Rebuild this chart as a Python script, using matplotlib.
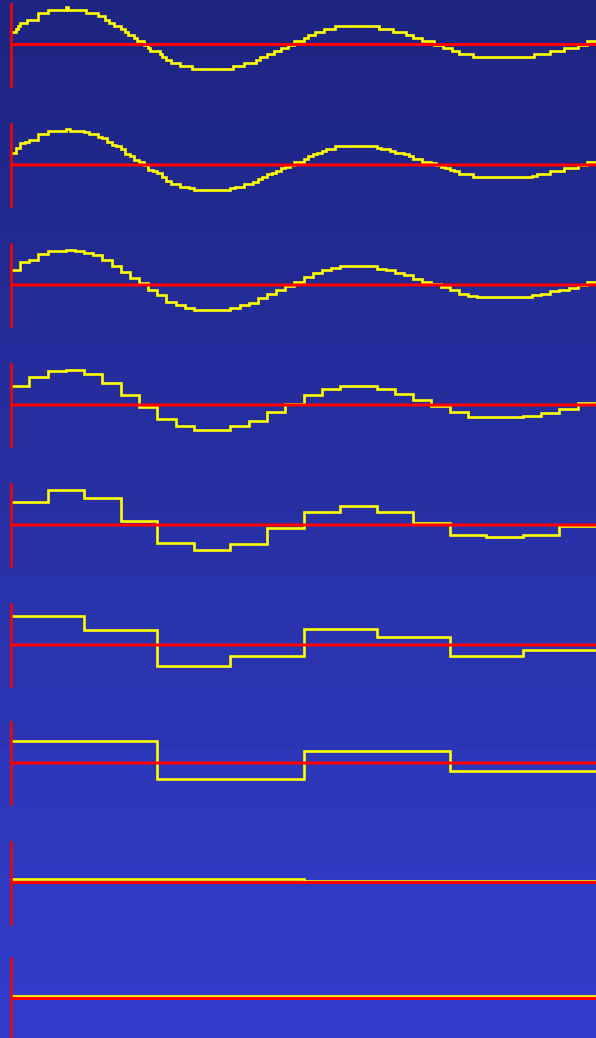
"""Multiresolution (Haar) approximations of a quantized damped oscillation.

Top panel is the finest level (256 samples); each panel below halves the
resolution by averaging neighbouring pairs.
"""
import numpy as np
import matplotlib
matplotlib.use("Agg")
import matplotlib.pyplot as plt
from matplotlib.colors import LinearSegmentedColormap

FINE_LEVELS = [4, 5, 6, 7, 8, 10, 11, 12, 11, 10, 9, 8, 7, 6, 5, 4, 3, 2, 1, 0,
               -1, -2, -3, -4, -5, -6, -7, -8, -7, -6, -5, -4, -3, -2, -1, 0,
               1, 2, 3, 4, 5, 6, 5, 4, 3, 2, 1, 0,
               -1, -2, -3, -4, -3, -2, -1, 0, 1]
FINE_COUNTS = [2, 1, 1, 3, 5, 4, 8, 1, 8, 5, 3, 2, 2, 3, 2, 1, 3, 1, 3, 2,
               1, 4, 1, 2, 2, 4, 5, 18, 5, 5, 2, 3, 3, 3, 3, 3,
               4, 2, 3, 4, 5, 19, 6, 6, 3, 4, 5, 4,
               4, 3, 6, 27, 7, 6, 6, 4, 4]
# number of samples shown in each panel, top to bottom
RESOLUTIONS = [256, 128, 64, 32, 16, 8, 4, 2, 1]

W, H = 596, 1038
PX_PER_LEVEL = 3.12
ZERO_Y = [44.5, 165, 285, 405, 525, 645, 763, 882.5, 998.5]  # px from top
HALF_H = 41
LEFT = 11

fine = np.repeat(np.array(FINE_LEVELS, dtype=float), FINE_COUNTS)
assert fine.size == 256

fig = plt.figure(figsize=(W / 100, H / 100), dpi=100)

# background gradient
bg = fig.add_axes([0, 0, 1, 1], zorder=-10)
cmap = LinearSegmentedColormap.from_list("bg", ["#1e2582", "#313dca"])
grad = np.linspace(0, 1, 18).reshape(-1, 1)
bg.imshow(grad, aspect="auto", cmap=cmap, extent=[0, 1, 1, 0],
          interpolation="nearest")
bg.set_axis_off()

ylim = HALF_H / PX_PER_LEVEL
for zero, n in zip(ZERO_Y, RESOLUTIONS):
    vals = fine.reshape(n, -1).mean(axis=1)
    edges = np.linspace(0, 256, n + 1)

    ax = fig.add_axes([LEFT / W, 1 - (zero + HALF_H) / H,
                       (W - LEFT) / W, 2 * HALF_H / H])
    ax.set_facecolor("none")
    ax.stairs(vals, edges, baseline=None, color="#ffff00", lw=1.9, zorder=2)
    ax.axhline(0, color="#ff0000", lw=2.2, zorder=3, snap=False)
    ax.set_xlim(0, 256)
    ax.set_ylim(-ylim, ylim)
    for side in ["top", "right", "bottom"]:
        ax.spines[side].set_visible(False)
    ax.spines["left"].set_color("#ff0000")
    ax.spines["left"].set_linewidth(1.8)
    ax.set_xticks([])
    ax.set_yticks([])

fig.savefig("out.png", dpi=100)
